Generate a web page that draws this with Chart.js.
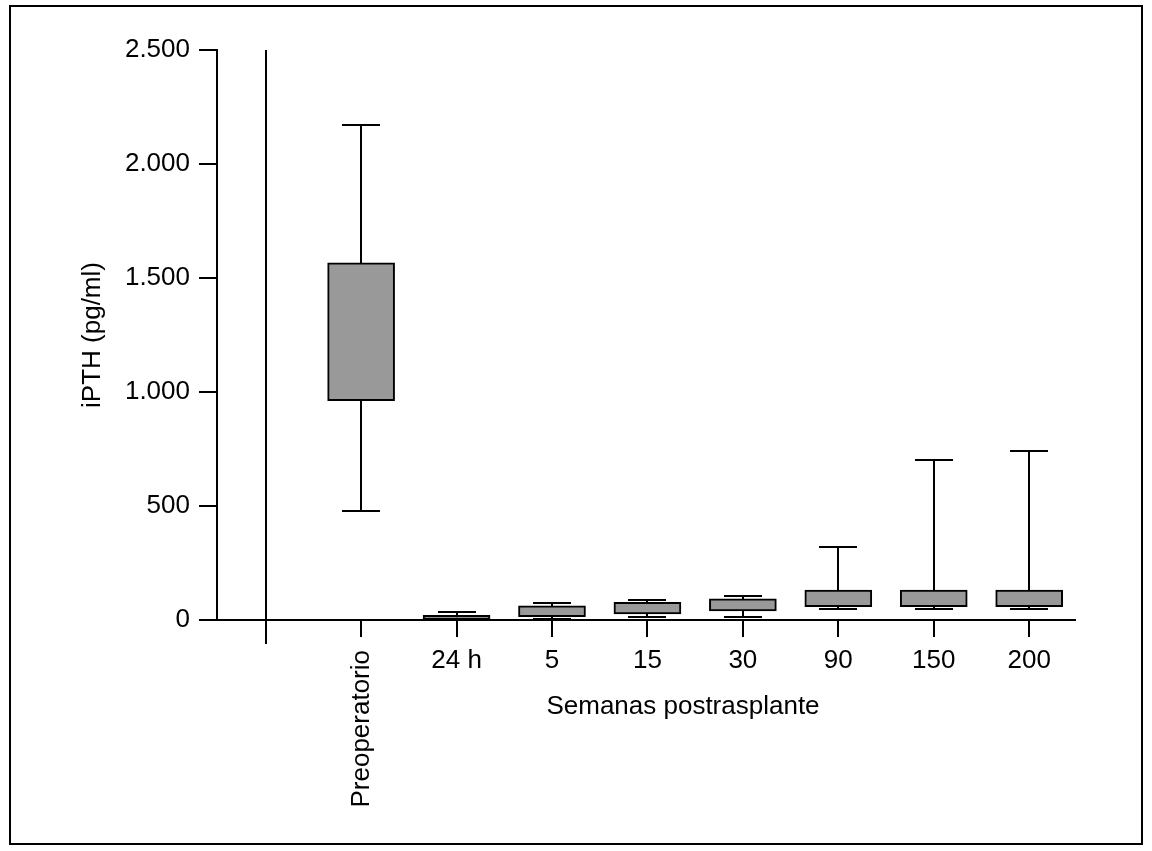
<!DOCTYPE html>
<html lang="es">
<head>
<meta charset="utf-8">
<script src="https://cdn.jsdelivr.net/npm/chart.js@4"></script>
<style>
  html, body { margin: 0; padding: 0; background: #fff; }
  #wrap { width: 1152px; height: 851px; }
</style>
</head>
<body>
<div id="wrap"><canvas id="chart"></canvas></div>
<script>
// categories and box-plot values (pg/ml)
const labels = ['Preoperatorio', '24 h', '5', '15', '30', '90', '150', '200'];
const q1 = [962, 2, 15, 27, 40, 59, 59, 59];
const q3 = [1567, 20, 62, 78, 93, 131, 131, 131];
const mins = [478, 0, 6, 14, 12, 47, 47, 47];
const maxs = [2170, 34, 74, 87, 105, 320, 702, 742];
const yTicks = [0, 500, 1000, 1500, 2000, 2500];

const FONT = "'Liberation Sans', Arial, Helvetica, sans-serif";
Chart.defaults.font.family = FONT;
Chart.defaults.font.size = 26;
Chart.defaults.color = '#000';

function fmt(v) {
  // spanish thousands separator
  return v >= 1000 ? Math.floor(v / 1000) + '.' + String(v % 1000).padStart(3, '0') : String(v);
}

const boxPlot = {
  id: 'boxPlot',
  beforeDraw(chart) {
    const ctx = chart.ctx;
    ctx.save();
    ctx.strokeStyle = '#000';
    ctx.lineWidth = 2;
    ctx.strokeRect(10, 6, 1132, 838);
    ctx.restore();
  },
  beforeDatasetsDraw(chart) {
    const { ctx, scales: { x, y } } = chart;
    ctx.save();
    ctx.strokeStyle = '#000';
    ctx.lineWidth = 2;
    labels.forEach((l, i) => {
      const px = Math.round(x.getPixelForValue(i));
      const top = Math.round(y.getPixelForValue(maxs[i]));
      const bot = Math.round(y.getPixelForValue(mins[i]));
      ctx.beginPath();
      ctx.moveTo(px, top);
      ctx.lineTo(px, bot);
      ctx.moveTo(px - 19, top);
      ctx.lineTo(px + 19, top);
      ctx.moveTo(px - 19, bot);
      ctx.lineTo(px + 19, bot);
      ctx.stroke();
    });
    // separator line reaches a bit below the other ticks
    const sx = Math.round(x.getPixelForValue(-1));
    ctx.beginPath();
    ctx.moveTo(sx, chart.chartArea.bottom);
    ctx.lineTo(sx, chart.chartArea.bottom + 24);
    ctx.stroke();
    ctx.restore();
  },
  afterDraw(chart) {
    const { ctx, scales: { x } } = chart;
    ctx.save();
    ctx.fillStyle = '#000';
    ctx.font = '26px ' + FONT;
    // rotated first category label
    ctx.translate(x.getPixelForValue(0), 650);
    ctx.rotate(-Math.PI / 2);
    ctx.textAlign = 'right';
    ctx.textBaseline = 'middle';
    ctx.fillText(labels[0], 0, 1);
    ctx.restore();

    ctx.save();
    ctx.fillStyle = '#000';
    ctx.font = '26px ' + FONT;
    ctx.textAlign = 'center';
    ctx.textBaseline = 'alphabetic';
    ctx.fillText('Semanas postrasplante', 683, 714);
    ctx.restore();
  }
};

new Chart(document.getElementById('chart'), {
  type: 'bar',
  data: {
    datasets: [{
      data: labels.map((l, i) => ({ x: i, y: [q1[i], q3[i]] })),
      backgroundColor: '#999999',
      borderColor: '#000',
      borderWidth: 2,
      borderSkipped: false,
      barThickness: 67
    }]
  },
  options: {
    responsive: true,
    maintainAspectRatio: false,
    animation: false,
    layout: { padding: { left: 77, top: 50, right: 77, bottom: 0 } },
    plugins: { legend: { display: false }, tooltip: { enabled: false } },
    scales: {
      x: {
        type: 'linear',
        offset: false,
        min: -1.51,
        max: 7.48,
        afterBuildTicks: s => { s.ticks = [-1, 0, 1, 2, 3, 4, 5, 6, 7].map(v => ({ value: v })); },
        afterFit: s => { s.height = 231; },
        ticks: {
          padding: 8,
          maxRotation: 0,
          autoSkip: false,
          callback: v => (v >= 1 ? labels[v] : '')
        },
        grid: {
          offset: false,
          color: c => (c.tick && c.tick.value === -1 ? '#000' : 'rgba(0,0,0,0)'),
          tickColor: '#000',
          lineWidth: 2,
          tickLength: 17
        },
        border: { display: true, color: '#000', width: 2 }
      },
      y: {
        min: 0,
        max: 2500,
        afterBuildTicks: s => { s.ticks = yTicks.map(v => ({ value: v })); },
        afterFit: s => { s.width = 140; },
        ticks: { padding: 9, callback: v => fmt(v) },
        grid: {
          drawOnChartArea: false,
          tickColor: '#000',
          lineWidth: 2,
          tickLength: 18
        },
        border: { display: true, color: '#000', width: 2 },
        title: { display: true, text: 'iPTH (pg/ml)', padding: 0, font: { size: 26 } }
      }
    }
  },
  plugins: [boxPlot]
});
</script>
</body>
</html>
